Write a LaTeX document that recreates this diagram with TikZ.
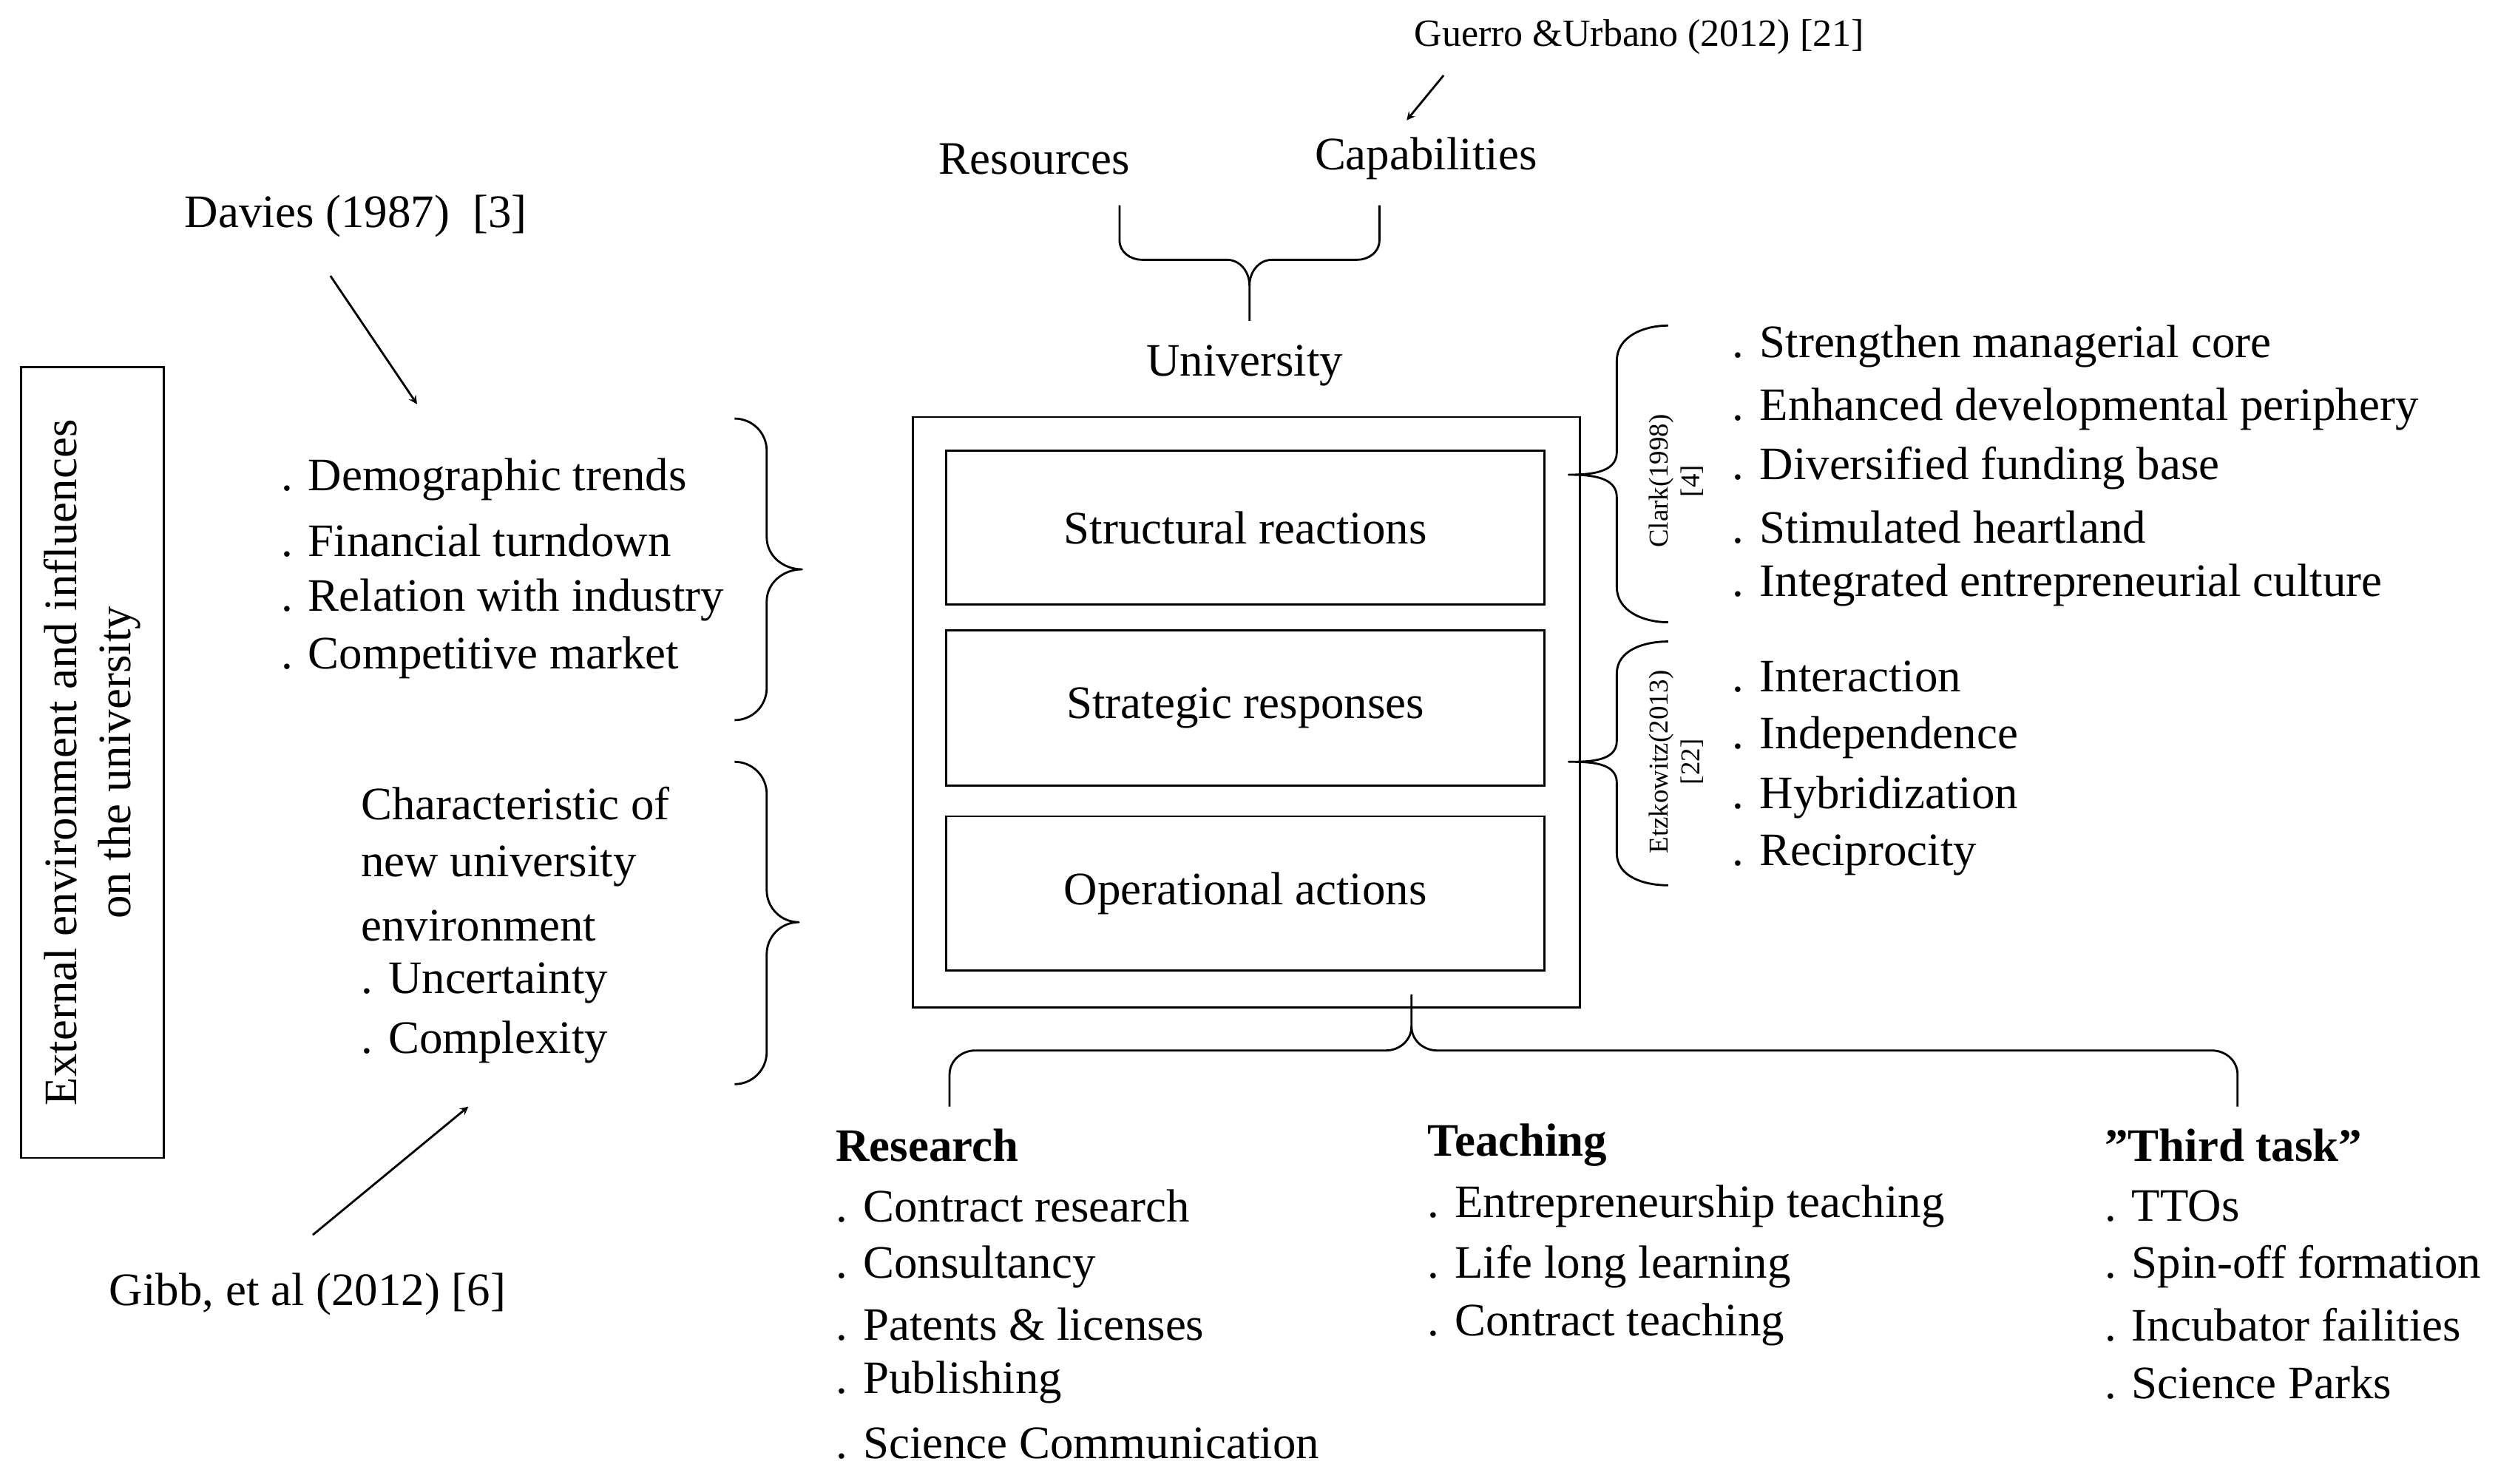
\documentclass[tikz,border=0pt]{standalone}
\usepackage{fontspec}
\setmainfont{Liberation Serif}
\begin{document}
\begin{tikzpicture}[x=1pt,y=-1pt,
  t/.style={font=\fontsize{29}{34}\selectfont,inner sep=0pt,anchor=west},
  tb/.style={t,font=\fontsize{29}{34}\selectfont\bfseries},
  sm/.style={font=\fontsize{17}{20}\selectfont,inner sep=0pt,align=center,rotate=90},
  br/.style={line width=1.3pt,line join=round},
  ar/.style={line width=1.3pt,->,>=stealth},
  bx/.style={draw,line width=1.3pt,inner sep=0pt}]
\useasboundingbox (0,0) rectangle (1568,925);
% left box
\node[bx,minimum width=89pt,minimum height=493pt] (ext) at (57.5,475.5) {};
\node[font=\fontsize{29}{34}\selectfont,rotate=90,align=center,inner sep=0pt] (extt) at (ext.center) {External environment and influences\\on the university};
% Davies
\node[t] (dav) at (115,135) {Davies (1987)\ \ [3]};
\coordinate (dava) at (206,172);
\coordinate (davb) at (260,252);
\draw[ar] (dava) -- (davb);
\node[t] (l1) at (175,299) {. Demographic trends};
\node[t] (l2) at (175,337) {. Financial turndown};
\node[t] (l3) at (175,374) {. Relation with industry};
\node[t] (l4) at (175,410) {. Competitive market};
\draw[br] (458,261) to[out=0,in=90] (478,281) -- (478,335) to[out=270,in=180] (500,355) to[out=180,in=90] (478,375) -- (478,429) to[out=270,in=0] (458,449);
\node[t] (c1) at (225,501) {Characteristic of};
\node[t] (c2) at (225,540) {new university};
\node[t] (c3) at (225,577) {environment};
\node[t] (c4) at (225,613) {. Uncertainty};
\node[t] (c5) at (225,650) {. Complexity};
\draw[br] (458,475) to[out=0,in=90] (478,495) -- (478,555) to[out=270,in=180] (498,575) to[out=180,in=90] (478,595) -- (478,656) to[out=270,in=0] (458,676);
\coordinate (giba) at (195,770);
\coordinate (gibb) at (292,690);
\draw[ar] (giba) -- (gibb);
\node[t] (gib) at (68,807) {Gibb, et al (2012) [6]};
% university
\node[bx,minimum width=416pt,minimum height=368pt] (uni) at (777,444) {};
\node[bx,minimum width=373pt,minimum height=96pt,font=\fontsize{29}{34}\selectfont] (s1) at (776.5,329) {Structural reactions};
\node[bx,minimum width=373pt,minimum height=97pt,font=\fontsize{29}{34}\selectfont] (s2) at (776.5,441.5) {Strategic responses};
\node[bx,minimum width=373pt,minimum height=96pt,font=\fontsize{29}{34}\selectfont] (s3) at (776.5,557) {Operational actions};
\node[font=\fontsize{29}{34}\selectfont,inner sep=0pt] (unit) at (776,228) {University};
% top
\node[font=\fontsize{29}{34}\selectfont,inner sep=0pt] (res) at (645,99) {Resources};
\node[font=\fontsize{29}{34}\selectfont,inner sep=0pt] (cap) at (889,99) {Capabilities};
\draw[br] (698,128) -- (698,150) to[out=270,in=180] (712,162) -- (765,162) to[out=0,in=90] (779,178) -- (779,200);
\draw[br] (860,128) -- (860,150) to[out=270,in=0] (846,162) -- (793,162) to[out=180,in=90] (779,178);
\node[font=\fontsize{24}{28}\selectfont,inner sep=0pt] (gue) at (1022,23) {Guerro \&Urbano (2012) [21]};
\coordinate (guea) at (900,47);
\coordinate (gueb) at (877,75);
\draw[ar] (guea) -- (gueb);
% right
\draw[br] (1040,203) to[out=180,in=90] (1008,225) -- (1008,282) to[out=270,in=0] (978,296) to[out=0,in=90] (1008,310) -- (1008,366) to[out=270,in=180] (1040,388);
\node[sm] (clk) at (1045,300) {Clark(1998)\\{[4]}};
\node[t] (r1) at (1080,216) {. Strengthen managerial core};
\node[t] (r2) at (1080,255) {. Enhanced developmental periphery};
\node[t] (r3) at (1080,292) {. Diversified funding base};
\node[t] (r4) at (1080,329) {. Stimulated heartland};
\node[t] (r5) at (1080,365) {. Integrated entrepreneurial culture};
\draw[br] (1040,400) to[out=180,in=90] (1008,420) -- (1008,462) to[out=270,in=0] (978,475) to[out=0,in=90] (1008,488) -- (1008,532) to[out=270,in=180] (1040,552);
\node[sm] (etz) at (1045,475) {Etzkowitz(2013)\\{[22]}};
\node[t] (e1) at (1080,422) {. Interaction};
\node[t] (e2) at (1080,460) {. Independence};
\node[t] (e3) at (1080,497) {. Hybridization};
\node[t] (e4) at (1080,533) {. Reciprocity};
% bottom brace
\draw[br] (592,690) -- (592,670) to[out=90,in=180] (608,655) -- (864,655) to[out=0,in=270] (880,640) -- (880,620);
\draw[br] (1395,690) -- (1395,670) to[out=90,in=0] (1379,655) -- (896,655) to[out=180,in=270] (880,640);
% bottom lists
\node[tb] (rh) at (521,714) {Research};
\node[t] (ra) at (521,752) {. Contract research};
\node[t] (rb) at (521,790) {. Consultancy};
\node[t] (rc) at (521,826) {. Patents \& licenses};
\node[t] (rd) at (521,862) {. Publishing};
\node[t] (re) at (521,900) {. Science Communication};
\node[tb] (th) at (890,714) {Teaching};
\node[t] (ta) at (890,752) {. Entrepreneurship teaching};
\node[t] (tb2) at (890,790) {. Life long learning};
\node[t] (tc) at (890,826) {. Contract teaching};
\node[tb] (xh) at (1312,714) {"Third task"};
\node[t] (xa) at (1312,752) {. TTOs};
\node[t] (xb) at (1312,790) {. Spin-off formation};
\node[t] (xc) at (1312,826) {. Incubator failities};
\node[t] (xd) at (1312,862) {. Science Parks};
\end{tikzpicture}
\end{document}
